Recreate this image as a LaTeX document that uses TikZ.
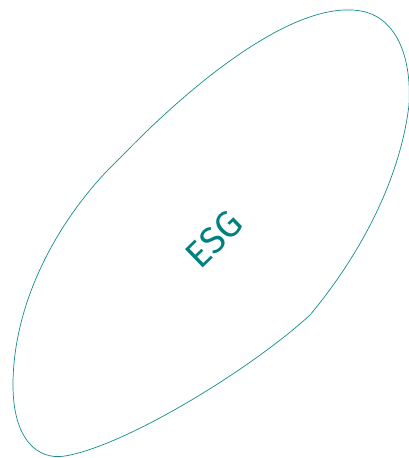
\documentclass[tikz,border=0pt]{standalone}
\usepackage{fontspec}
\setmainfont{Fira Sans}
\definecolor{blobline}{RGB}{20,140,140}
\definecolor{blobtext}{RGB}{0,128,128}
\begin{document}
\begin{tikzpicture}[x=1pt,y=-1pt,
  blob/.style={draw=blobline,line width=0.7pt},
  label/.style={text=blobtext,font=\fontsize{37}{42}\selectfont,rotate=44,inner sep=0pt}]
\useasboundingbox (0,0) rectangle (409,458);
\draw[blob] (350,10) .. controls (395,10) and (412,55) .. (409,105)
  .. controls (400,180) and (360,255) .. (310,315)
  .. controls (250,370) and (125,446) .. (65,456)
  .. controls (38,460.5) and (13,440) .. (13,385)
  .. controls (13,300) and (60,215) .. (120,158)
  .. controls (200,75) and (290,8) .. cycle;
\node[label] (esg) at (214,239) {ESG};
\end{tikzpicture}
\end{document}
